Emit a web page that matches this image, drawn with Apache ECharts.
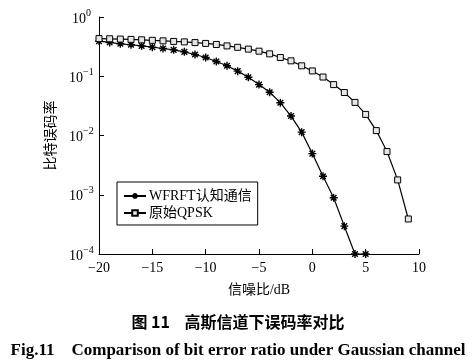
<!DOCTYPE html>
<html>
<head>
<meta charset="utf-8">
<script src="https://cdn.jsdelivr.net/npm/echarts@6/dist/echarts.min.js"></script>
<style>html,body{margin:0;padding:0;background:#fff;}#c{width:476px;height:362px;}</style>
</head>
<body>
<div id="c"></div>
<script>
// ---- data ----
const snrWFRFT = [-20,-19,-18,-17,-16,-15,-14,-13,-12,-11,-10,-9,-8,-7,-6,-5,-4,-3,-2,-1,0,1,2,3,4,5];
const berWFRFT = [0.392,0.372,0.353,0.340,0.326,0.310,0.294,0.279,0.258,0.233,0.207,0.177,0.150,0.122,0.096,0.0723,0.0536,0.0358,0.0213,0.0114,0.00495,0.00205,0.00089,0.000295,0.0001,0.0001];
const snrQPSK = [-20,-19,-18,-17,-16,-15,-14,-13,-12,-11,-10,-9,-8,-7,-6,-5,-4,-3,-2,-1,0,1,2,3,4,5,6,7,8,9];
const berQPSK = [0.432,0.429,0.424,0.419,0.412,0.404,0.396,0.387,0.380,0.370,0.358,0.344,0.325,0.308,0.287,0.265,0.239,0.207,0.182,0.150,0.123,0.097,0.0723,0.0531,0.0362,0.0227,0.0121,0.00536,0.00178,0.00039];
const seriesNames = ['WFRFT认知通信', '原始QPSK'];
const xTicks = [-20,-15,-10,-5,0,5,10];
const yTicks = [1e-4,1e-3,1e-2,1e-1,1];
const xName = '信噪比/dB';
const yName = '比特误码率';
const captionCN = '图 11    高斯信道下误码率对比';
const captionEN = 'Fig.11    Comparison of bit error ratio under Gaussian channel';

const serif = '"Liberation Serif", "Noto Sans CJK SC", serif';
const starPath = 'path://M5,0L5,10M0,5L10,5M1.5,1.5L8.5,8.5M1.5,8.5L8.5,1.5';

const chart = echarts.init(document.getElementById('c'), null, {renderer:'canvas'});
chart.setOption({
  animation: false,
  backgroundColor: '#fff',
  grid: {left: 99, right: 57, top: 17, bottom: 108, containLabel: false},
  xAxis: {
    type: 'value',
    min: xTicks[0], max: xTicks[xTicks.length-1], interval: 5,
    axisLine: {show: true, onZero: false, lineStyle: {color: '#000', width: 1}},
    axisTick: {show: true, inside: true, length: 5, lineStyle: {color: '#000'}},
    splitLine: {show: false},
    axisLabel: {color: '#000', fontFamily: serif, fontSize: 14, margin: 7,
      formatter: v => String(v).replace('-', '−')},
    name: xName, nameLocation: 'middle', nameGap: 29,
    nameTextStyle: {color: '#000', fontFamily: serif, fontSize: 14}
  },
  yAxis: {
    type: 'log', logBase: 10,
    min: yTicks[0], max: yTicks[yTicks.length-1],
    axisLine: {show: true, onZero: false, lineStyle: {color: '#000', width: 1}},
    axisTick: {show: true, inside: true, length: 5, lineStyle: {color: '#000'}},
    minorTick: {show: false},
    splitLine: {show: false},
    axisLabel: {color: '#000', fontFamily: serif, margin: 30, align: 'left',
      formatter: v => {
        const e = Math.round(Math.log10(v));
        return (e === 0 ? '{z|10}' : '{b|10}') + '{s|' + (e < 0 ? '−' + (-e) : e) + '}';
      },
      rich: {
        b: {fontFamily: serif, fontSize: 14, color: '#000', lineHeight: 18, verticalAlign: 'bottom'},
        z: {fontFamily: serif, fontSize: 14, color: '#000', lineHeight: 18, verticalAlign: 'bottom', padding: [0,0,0,3]},
        s: {fontFamily: serif, fontSize: 10, color: '#000', lineHeight: 10, verticalAlign: 'top'}
      }
    },
    name: yName, nameLocation: 'middle', nameGap: 31, nameRotate: 90,
    nameTextStyle: {color: '#000', fontFamily: serif, fontSize: 14}
  },
  legend: {
    orient: 'vertical', left: 117, top: 182,
    borderColor: '#000', borderWidth: 1, borderRadius: 0,
    padding: [7, 6, 5, 6], itemGap: 3, itemWidth: 22, itemHeight: 7,
    textStyle: {color: '#000', fontFamily: serif, fontSize: 14, padding: [0,0,0,-2]},
    data: seriesNames
  },
  title: [
    {text: captionCN, left: 'center', top: 309,
     textStyle: {fontFamily: '"Noto Sans CJK SC", sans-serif', fontSize: 16, fontWeight: 'bold', color: '#000'}},
    {text: captionEN, left: 'center', top: 337,
     textStyle: {fontFamily: '"Liberation Serif", serif', fontSize: 17, fontWeight: 'bold', color: '#000'}}
  ],
  series: [
    {
      name: seriesNames[0], type: 'line', clip: false,
      data: snrWFRFT.map((x, i) => [x, berWFRFT[i]]),
      symbol: starPath, symbolSize: 8, symbolKeepAspect: true,
      lineStyle: {color: '#000', width: 1.2},
      itemStyle: {color: '#000', borderColor: '#000', borderWidth: 1.4}
    },
    {
      name: seriesNames[1], type: 'line', clip: false,
      data: snrQPSK.map((x, i) => [x, berQPSK[i]]),
      symbol: 'rect', symbolSize: 6,
      lineStyle: {color: '#000', width: 1.2},
      itemStyle: {color: '#e6e6e6', borderColor: '#000', borderWidth: 1}
    }
  ]
});
</script>
</body>
</html>
